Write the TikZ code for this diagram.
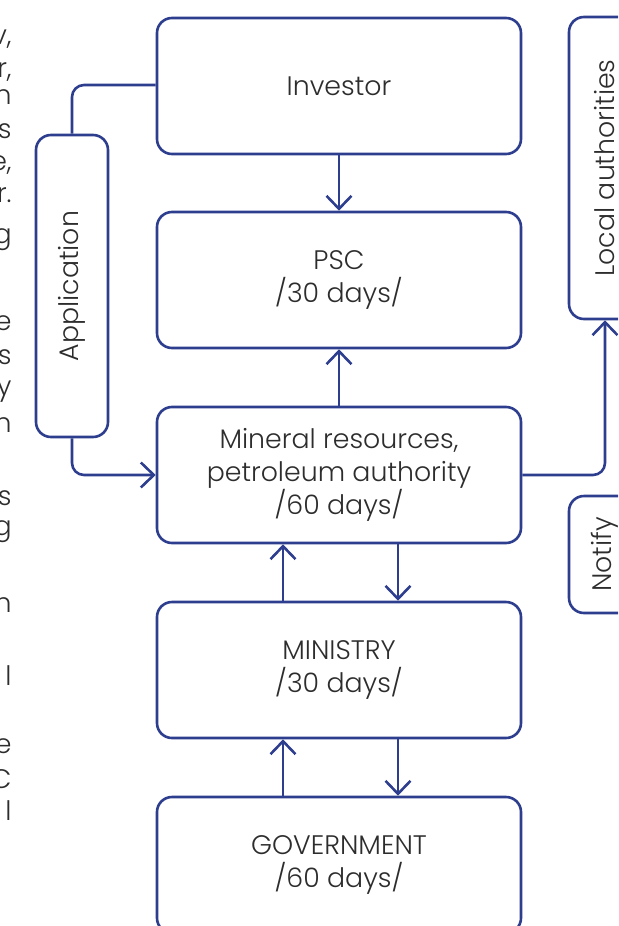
\documentclass[tikz,border=0pt]{standalone}
\usepackage{fontspec}
\setmainfont{Poppins}[UprightFont=* Light]
\usetikzlibrary{arrows.meta}
\definecolor{flowblue}{RGB}{46,62,142}
\definecolor{txtgray}{RGB}{45,45,45}
\tikzset{
  stage/.style={draw=flowblue,line width=1.3pt,rounded corners=7.5pt,
    minimum width=182pt,minimum height=68pt,align=center,
    text=txtgray,font=\fontsize{13.4}{16.5}\selectfont},
  sidebox/.style={draw=flowblue,line width=1.3pt,rounded corners=7.5pt,
    minimum width=36pt,align=center,text=txtgray,
    font=\fontsize{13.4}{16.5}\selectfont},
  link/.style={flowblue,line width=1.3pt,rounded corners=6pt},
  frag/.style={anchor=base east,inner sep=0pt,text=txtgray,
    font=\fontsize{13.4}{16.5}\selectfont}
}
\begin{document}
\begin{tikzpicture}[x=0.5pt,y=-0.5pt,>={Straight Barb[length=6.5pt,width=12.5pt]}]
  \useasboundingbox (0,0) rectangle (618,926);
  \clip (0,0) rectangle (618,926);
  % main chain
  \node[stage] (inv) at (339,86) {Investor};
  \node[stage] (psc) at (339,280) {PSC\\/30 days/};
  \node[stage] (mra) at (339,475) {Mineral resources,\\petroleum authority\\/60 days/};
  \node[stage] (min) at (339,670) {MINISTRY\\/30 days/};
  \node[stage] (gov) at (339,865) {GOVERNMENT\\/60 days/};
  % side boxes
  \node[sidebox,minimum height=151pt] (app) at (72,286) {\rotatebox{90}{Application}};
  \node[sidebox,minimum height=151pt] (loc) at (605,168) {\rotatebox{90}{Local authorities}};
  \node[sidebox,minimum height=58.5pt] (ntf) at (605,554.5) {\rotatebox{90}{Notify}};
  % connectors
  \draw[link,->] (inv) -- (psc);
  \draw[link,->] (mra) -- (psc);
  \draw[link,->] ([xshift=29.5pt]mra.south) -- ([xshift=29.5pt]min.north);
  \draw[link,->] ([xshift=-28pt]min.north) -- ([xshift=-28pt]mra.south);
  \draw[link,->] ([xshift=29.5pt]min.south) -- ([xshift=29.5pt]gov.north);
  \draw[link,->] ([xshift=-28pt]gov.north) -- ([xshift=-28pt]min.south);
  \draw[link] ([yshift=0.5pt]inv.west) -| (app.north);
  \draw[link,->] (app.south) |- (mra.west);
  \draw[link,->] (mra.east) -| (loc.south);
  % text cut off at the left edge
  \node[frag] (f1) at (12,44) {v,};
  \node[frag] (f2) at (12,77) {r,};
  \node[frag] (f3) at (12,104) {n};
  \node[frag] (f4) at (12,138) {s};
  \node[frag] (f5) at (12,170) {e,};
  \node[frag] (f6) at (12,202) {r.};
  \node[frag] (f7) at (12,243) {g};
  \node[frag] (f8) at (12,330) {e};
  \node[frag] (f9) at (12,364) {s};
  \node[frag] (f10) at (12,395) {y};
  \node[frag] (f11) at (12,432) {n};
  \node[frag] (f12) at (12,505) {s};
  \node[frag] (f13) at (12,535) {g};
  \node[frag] (f14) at (12,612) {n};
  \node[frag] (f15) at (12,685) {l};
  \node[frag] (f16) at (12,753) {e};
  \node[frag] (f17) at (12,788) {C};
  \node[frag] (f18) at (12,820) {l};
\end{tikzpicture}
\end{document}
